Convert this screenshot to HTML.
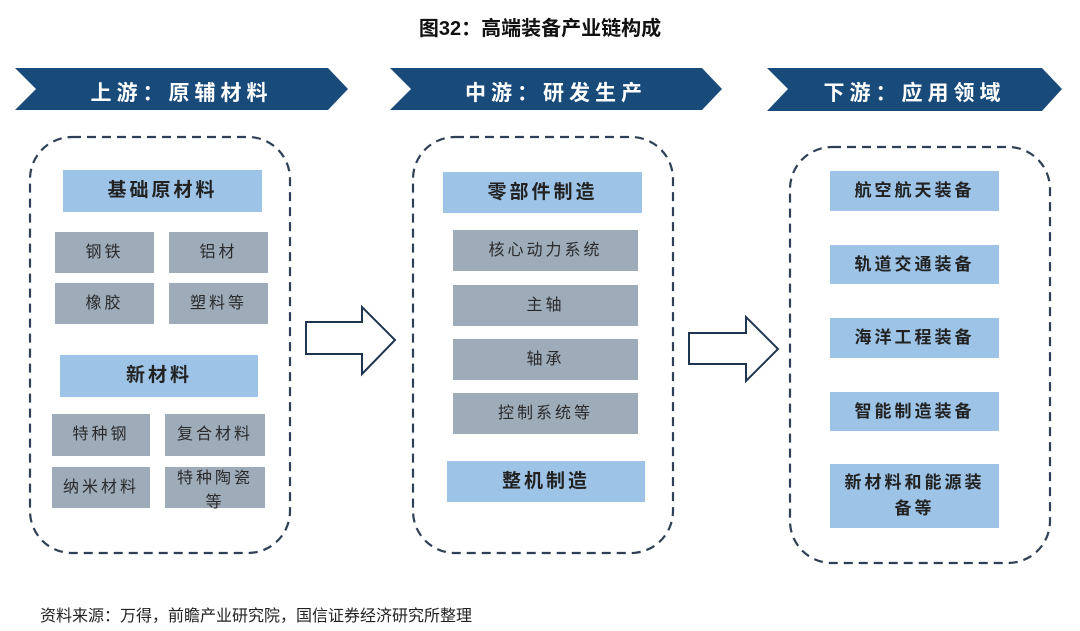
<!DOCTYPE html>
<html><head><meta charset="utf-8"><style>
body{margin:0;width:1080px;height:631px;background:#fff;position:relative;overflow:hidden;font-family:"Liberation Sans","Noto Sans CJK SC",sans-serif;}
.b{position:absolute;display:flex;align-items:center;justify-content:center;color:#222;letter-spacing:3px;text-align:center;line-height:22px}
.lb{background:#9dc3e6;font-weight:bold;font-size:19px}
.gb{background:#9eabb9;font-size:16px;color:#2a2a2a}
.rb{background:#9dc3e6;font-weight:bold;font-size:17px}
.t{position:absolute;color:#fff;font-size:21px;font-weight:bold;letter-spacing:5px;text-align:center;top:77px}
</style></head><body>
<div style="position:absolute;top:12px;width:1080px;text-align:center;font-weight:bold;font-size:20px;color:#111">图32：高端装备产业链构成</div>
<svg width="1080" height="631" style="position:absolute;left:0;top:0">
<polygon points="15,68 328,68 348,89 328,110 15,110 36,89" fill="#184a7a"/>
<polygon points="390,68 702,68 722,89 702,110 390,110 411,89" fill="#184a7a"/>
<polygon points="767,68 1042,68 1062,89 1042,111 767,111 788,89" fill="#184a7a"/>
<g fill="none" stroke="#2f3f55" stroke-width="2.2" stroke-dasharray="9,6">
<rect x="30" y="137" width="260" height="416" rx="42"/>
<rect x="413" y="137" width="260" height="416" rx="42"/>
<rect x="790" y="147" width="260" height="416" rx="42"/>
</g>
<g fill="#fff" stroke="#1e3550" stroke-width="2">
<polygon points="306,322 362,322 362,307 395,340 362,374 362,354 306,354"/>
<polygon points="689,333 746,333 746,317 778,349 746,381 746,364 689,364"/>
</g>
</svg>
<div class="t" style="left:15px;width:333px">上游：原辅材料</div>
<div class="t" style="left:390px;width:332px">中游：研发生产</div>
<div class="t" style="left:767px;width:295px">下游：应用领域</div>

<div class="b lb" style="left:63px;top:170px;width:199px;height:42px">基础原材料</div>
<div class="b gb" style="left:55px;top:232px;width:99px;height:41px">钢铁</div>
<div class="b gb" style="left:169px;top:232px;width:99px;height:41px">铝材</div>
<div class="b gb" style="left:55px;top:283px;width:99px;height:41px">橡胶</div>
<div class="b gb" style="left:169px;top:283px;width:99px;height:41px">塑料等</div>
<div class="b lb" style="left:60px;top:355px;width:198px;height:42px">新材料</div>
<div class="b gb" style="left:52px;top:414px;width:98px;height:42px">特种钢</div>
<div class="b gb" style="left:165px;top:414px;width:100px;height:42px">复合材料</div>
<div class="b gb" style="left:52px;top:467px;width:98px;height:41px">纳米材料</div>
<div class="b gb" style="left:165px;top:467px;width:100px;height:41px;align-items:flex-start;line-height:24px">特种陶瓷<br>等</div>

<div class="b lb" style="left:443px;top:172px;width:199px;height:41px">零部件制造</div>
<div class="b gb" style="left:453px;top:230px;width:185px;height:41px">核心动力系统</div>
<div class="b gb" style="left:453px;top:285px;width:185px;height:41px">主轴</div>
<div class="b gb" style="left:453px;top:339px;width:185px;height:41px">轴承</div>
<div class="b gb" style="left:453px;top:393px;width:185px;height:41px">控制系统等</div>
<div class="b lb" style="left:447px;top:461px;width:198px;height:41px">整机制造</div>

<div class="b rb" style="left:830px;top:171px;width:169px;height:40px">航空航天装备</div>
<div class="b rb" style="left:830px;top:245px;width:169px;height:39px">轨道交通装备</div>
<div class="b rb" style="left:830px;top:318px;width:169px;height:40px">海洋工程装备</div>
<div class="b rb" style="left:830px;top:392px;width:169px;height:39px">智能制造装备</div>
<div class="b rb" style="left:830px;top:464px;width:169px;height:64px;line-height:26px">新材料和能源装<br>备等</div>

<div style="position:absolute;left:40px;top:602px;font-size:16px;color:#222">资料来源：万得，前瞻产业研究院，国信证券经济研究所整理</div>
</body></html>
